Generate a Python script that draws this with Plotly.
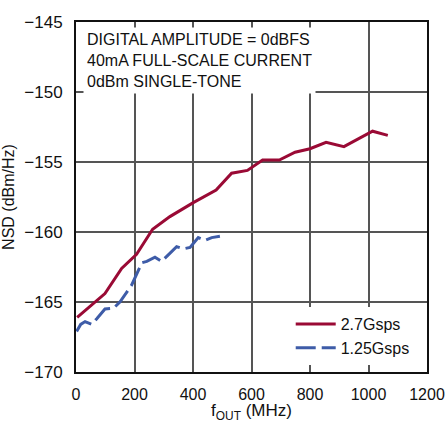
import plotly.graph_objects as go

# 2.7 Gsps series
f_27 = [4, 99, 156, 207, 262, 321, 401, 479, 532, 586, 638, 695, 749, 800, 855, 916, 1014, 1066]
nsd_27 = [-166.1, -164.4, -162.6, -161.6, -159.8, -158.9, -157.9, -157.0, -155.8, -155.6,
          -154.86, -154.86, -154.3, -154.05, -153.6, -153.9, -152.8, -153.1]

# 1.25 Gsps series
f_125 = [2, 16, 31, 54, 71, 99, 128, 150, 190, 225, 242, 270, 293, 316, 344, 367, 390, 418, 441, 464, 492]
nsd_125 = [-167.1, -166.6, -166.4, -166.6, -166.2, -165.5, -165.45, -165.0, -163.8, -162.2, -162.1,
           -161.8, -162.1, -161.6, -161.05, -161.2, -161.1, -160.4, -160.6, -160.4, -160.3]

x_ticks = [0, 200, 400, 600, 800, 1000, 1200]
y_ticks = [-170, -165, -160, -155, -150, -145]

FONT = "Liberation Sans Narrow, Arial Narrow, Liberation Sans, sans-serif"

fig = go.Figure()
fig.add_trace(go.Scatter(x=f_27, y=nsd_27, mode="lines", name="2.7Gsps",
                         line=dict(color="#9a0a35", width=3)))
fig.add_trace(go.Scatter(x=f_125, y=nsd_125, mode="lines", name="1.25Gsps",
                         line=dict(color="#3e5ca8", width=3, dash="20px,6px")))

fig.update_layout(
    width=446, height=423,
    margin=dict(l=76, r=19, t=22, b=51),
    paper_bgcolor="white", plot_bgcolor="white",
    font=dict(family=FONT, size=16, color="#111"),
    showlegend=True,
    legend=dict(x=0.965, y=0.02, xanchor="right", yanchor="bottom",
                bgcolor="white", font=dict(size=16), tracegroupgap=0,
                itemwidth=40),
    xaxis=dict(range=[0, 1200], tickvals=x_ticks, showgrid=True, gridcolor="#555555",
               gridwidth=1.5, showline=True, linecolor="#111", linewidth=2, mirror=True,
               ticks="", zeroline=False, ticklabelstandoff=7, automargin=False,
               tickfont=dict(size=16),
               title=dict(text="f<sub>OUT</sub> (MHz)", standoff=4, font=dict(size=17))),
    yaxis=dict(range=[-170, -145], tickvals=y_ticks, showgrid=True, gridcolor="#555555",
               gridwidth=1.5, showline=True, linecolor="#111", linewidth=2, mirror=True,
               ticks="", zeroline=False, ticklabelstandoff=8, automargin=False,
               tickfont=dict(size=17),
               title=dict(text="NSD (dBm/Hz)", standoff=6, font=dict(size=16))),
)

fig.add_annotation(xref="paper", yref="paper", x=0.02, y=0.985, xanchor="left", yanchor="top",
                   align="left", showarrow=False, bgcolor="white",
                   text="DIGITAL AMPLITUDE = 0dBFS<br>40mA FULL-SCALE CURRENT<br>0dBm SINGLE-TONE",
                   font=dict(size=16), borderpad=3)

# remove the default page margin so the figure sits exactly in the window
fig.write_html("out.html", config={"displayModeBar": False},
               post_script="document.body.style.margin='0';")
